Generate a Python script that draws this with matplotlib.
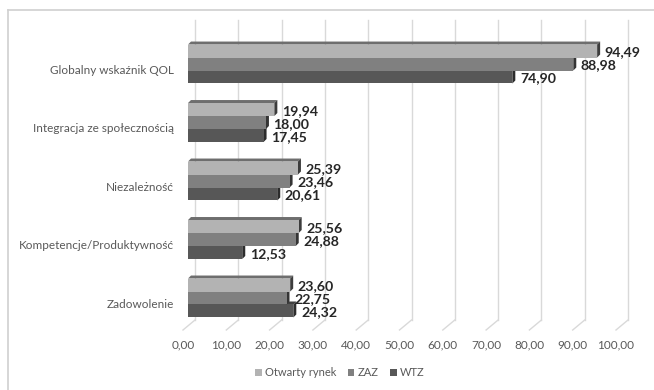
import matplotlib
matplotlib.use("Agg")
import matplotlib.pyplot as plt
from matplotlib.patches import Polygon, Patch
from matplotlib.lines import Line2D
from matplotlib.transforms import IdentityTransform, ScaledTranslation

categories = ["Zadowolenie", "Kompetencje/Produktywność", "Niezależność",
              "Integracja ze społecznością", "Globalny wskaźnik QOL"]
series_names = ["Otwarty rynek", "ZAZ", "WTZ"]
otwarty_rynek = [23.60, 25.56, 25.39, 19.94, 94.49]
zaz = [22.75, 24.88, 23.46, 18.00, 88.98]
wtz = [24.32, 12.53, 20.61, 17.45, 74.90]
x_ticks = list(range(0, 101, 10))
tick_labels = [f"{t:.2f}".replace(".", ",") for t in x_ticks]

plt.rcParams["font.family"] = ["Lato", "DejaVu Sans"]

W, H, DPI = 654, 390, 100
fig = plt.figure(figsize=(W / DPI, H / DPI), dpi=DPI)
fig.patch.set_facecolor("white")

# plot area in pixels (from top-left)
left_px, right_px, top_px, bottom_px = 188, 621, 25, 330
ax = fig.add_axes([left_px / W, 1 - bottom_px / H,
                   (right_px - left_px) / W, (bottom_px - top_px) / H])
ax.set_xlim(0, 100)
ax.set_ylim(-0.547, 4.667)
ax.set_facecolor("none")
for s in ax.spines.values():
    s.set_visible(False)

front_colors = ["#b3b3b3", "#808080", "#575757"]
top_colors = ["#6e6e6e", "#5a5a5a", "#404040"]
side_colors = ["#3c3c3c", "#353535", "#2c2c2c"]
label_color = "#595959"
bar_h = 0.222
offsets = [bar_h, 0.0, -bar_h]
depth_dx, depth_dy = 3, 3  # pixels of the 3-D depth
ident = IdentityTransform()

# back wall gridlines and floor lines
for t in x_ticks:
    bx, _ = ax.transData.transform((t, 0))
    gx = bx + 7
    ax.add_line(Line2D([gx, gx], [H - 320, H - 20], transform=ident,
                       color="#d9d9d9", lw=1.0, zorder=0, clip_on=False))
    ax.add_line(Line2D([bx - 5, gx], [H - 330, H - 320], transform=ident,
                       color="#d9d9d9", lw=1.0, zorder=0, clip_on=False))

all_series = [otwarty_rynek, zaz, wtz]
# draw lower bars first so upper bars cover their top faces
for si in [2, 1, 0]:
    vals = all_series[si]
    ys = [i + offsets[si] for i in range(len(categories))]
    z = 2 + (2 - si)
    for y, v in zip(ys, vals):
        (x0, yb) = ax.transData.transform((0, y - bar_h / 2))
        (xv, yt) = ax.transData.transform((v, y + bar_h / 2))
        top = Polygon([(x0, yt), (x0 + depth_dx, yt + depth_dy),
                       (xv + depth_dx, yt + depth_dy), (xv, yt)],
                      closed=True, transform=ident, facecolor=top_colors[si],
                      edgecolor="none", zorder=z, clip_on=False)
        side = Polygon([(xv, yb), (xv, yt), (xv + depth_dx, yt + depth_dy),
                        (xv + depth_dx, yb + depth_dy)],
                       closed=True, transform=ident, facecolor=side_colors[si],
                       edgecolor="none", zorder=z, clip_on=False)
        ax.add_patch(top)
        ax.add_patch(side)
    ax.barh(ys, vals, height=bar_h, color=front_colors[si], zorder=z,
            linewidth=0)
    for y, v in zip(ys, vals):
        ax.annotate(f"{v:.2f}".replace(".", ","), xy=(v, y),
                    xytext=(5.5, -1), textcoords="offset points",
                    ha="left", va="center", fontsize=10.2, fontweight="bold",
                    color="#262626", zorder=10, annotation_clip=False)

# axis labels
ax.set_xticks(x_ticks)
ax.set_xticklabels(tick_labels, fontsize=8.5, color=label_color)
ax.tick_params(axis="x", length=0, pad=7)
for lbl in ax.get_xticklabels():
    lbl.set_transform(lbl.get_transform() +
                      ScaledTranslation(-5 / DPI, 0, fig.dpi_scale_trans))

ax.set_yticks(range(len(categories)))
ax.set_yticklabels(categories, fontsize=8.5, color=label_color)
ax.tick_params(axis="y", length=0, pad=10)
for lbl in ax.get_yticklabels():
    lbl.set_transform(lbl.get_transform() +
                      ScaledTranslation(0, -5 / DPI, fig.dpi_scale_trans))

handles = [Patch(facecolor=front_colors[i], edgecolor="none")
           for i in range(3)]
fig.legend(handles, series_names, loc="center",
           bbox_to_anchor=(340 / W, 1 - 373 / H), ncol=3, frameon=False,
           fontsize=8, labelcolor=label_color, handlelength=0.6,
           handleheight=0.6, handletextpad=0.3, columnspacing=1.0)

# chart frame (left and top edges)
fig.add_artist(Line2D([8, 8], [0, H - 10], transform=ident,
                      color="#d0d0d0", lw=1.2))
fig.add_artist(Line2D([8, W], [H - 10, H - 10], transform=ident,
                      color="#d0d0d0", lw=1.2))

fig.savefig("out.png", dpi=DPI, facecolor="white")
